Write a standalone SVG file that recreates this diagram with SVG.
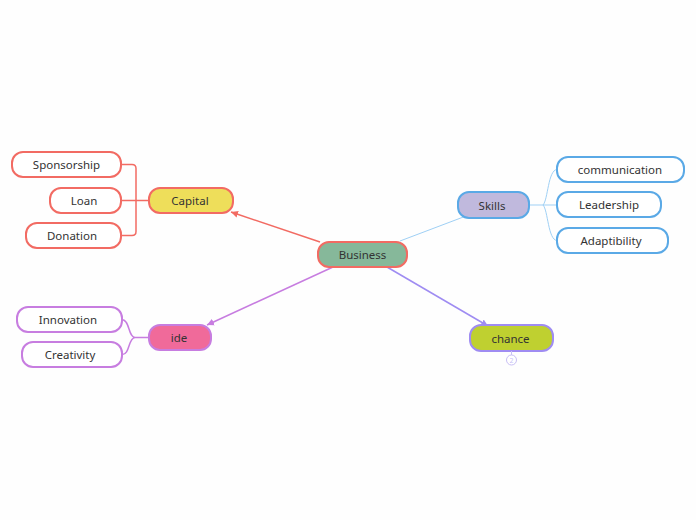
<svg xmlns="http://www.w3.org/2000/svg" width="696" height="520" viewBox="0 0 696 520">
<defs>
<marker id="ar" markerWidth="8" markerHeight="8" refX="7" refY="4" orient="auto" markerUnits="userSpaceOnUse"><path d="M0,0.5 L7,4 L0,7.5 Z" fill="context-stroke"/></marker>
<marker id="arR" markerWidth="8" markerHeight="8" refX="7" refY="4" orient="auto" markerUnits="userSpaceOnUse"><path d="M0,0.5 L7,4 L0,7.5 Z" fill="#f26b63"/></marker>
<marker id="arP" markerWidth="8" markerHeight="8" refX="7" refY="4" orient="auto" markerUnits="userSpaceOnUse"><path d="M0,0.5 L7,4 L0,7.5 Z" fill="#c77de0"/></marker>
<marker id="arL" markerWidth="8" markerHeight="8" refX="7" refY="4" orient="auto" markerUnits="userSpaceOnUse"><path d="M0,0.5 L7,4 L0,7.5 Z" fill="#9f8cf2"/></marker>
</defs>
<style>
text{font-family:"Noto Sans","DejaVu Sans",sans-serif;font-size:11.5px;fill:#333;text-anchor:middle;dominant-baseline:central}
.n rect{stroke-width:2}
.c{fill:none}
</style>
<rect width="696" height="520" fill="#fefefe"/>
<g id="connectors">
<line x1="320" y1="242" x2="231" y2="212" stroke="#f26b63" stroke-width="1.5" marker-end="url(#arR)"/>
<line x1="400" y1="241" x2="466" y2="216" stroke="#9fd0f5" stroke-width="1"/>
<line x1="333" y1="267" x2="207" y2="325" stroke="#c77de0" stroke-width="1.5" marker-end="url(#arP)"/>
<line x1="387" y1="267" x2="488" y2="326" stroke="#9f8cf2" stroke-width="1.5" marker-end="url(#arL)"/>
<path class="c" stroke="#f26b63" stroke-width="1.5" d="M149,200.5 H136 M121,164.5 H132 Q136,164.5 136,168.5 V231.5 Q136,235.5 132,235.5 H121 M121,200.5 H136"/>
<path class="c" stroke="#9fd0f5" stroke-width="1" d="M529,205 H543 M543,205 C548,200 548,170 557,169.5 M543,205 H557 M543,205 C548,210 548,240 557,240.5"/>
<path class="c" stroke="#c77de0" stroke-width="1.5" d="M149,337.5 H135 M135,337.5 C128,337 130,320 122,319.5 M135,337.5 C128,338 130,355 122,354.5"/>
</g>
<g id="business" class="n"><rect x="318" y="242" width="89" height="25" rx="11" fill="#86b89a" stroke="#f26b63"/><text x="362.5" y="254.5">Business</text></g>
<g id="capital" class="n"><rect x="149" y="188" width="84" height="25" rx="11" fill="#eede5a" stroke="#f26b63"/><text x="190" y="200.5">Capital</text></g>
<g id="sponsorship" class="n"><rect x="12" y="152" width="109" height="25" rx="11" fill="#fff" stroke="#f26b63"/><text x="66.5" y="164.5">Sponsorship</text></g>
<g id="loan" class="n"><rect x="50" y="188" width="71" height="25" rx="11" fill="#fff" stroke="#f26b63"/><text x="84" y="200.5">Loan</text></g>
<g id="donation" class="n"><rect x="26" y="223" width="95" height="25" rx="11" fill="#fff" stroke="#f26b63"/><text x="72" y="235.5">Donation</text></g>
<g id="skills" class="n"><rect x="458" y="192" width="71" height="26" rx="11" fill="#c0b9dd" stroke="#5aa9e6"/><text x="492" y="205">Skills</text></g>
<g id="communication" class="n"><rect x="557" y="157" width="127" height="25" rx="11" fill="#fff" stroke="#5aa9e6"/><text x="620" y="169.5">communication</text></g>
<g id="leadership" class="n"><rect x="557" y="192" width="104" height="25" rx="11" fill="#fff" stroke="#5aa9e6"/><text x="609" y="204.5">Leadership</text></g>
<g id="adaptibility" class="n"><rect x="557" y="228" width="111" height="25" rx="11" fill="#fff" stroke="#5aa9e6"/><text x="611" y="240.5">Adaptibility</text></g>
<g id="ide" class="n"><rect x="149" y="325" width="62" height="25" rx="11" fill="#f06a9a" stroke="#c77de0"/><text x="179" y="337.5">ide</text></g>
<g id="innovation" class="n"><rect x="17" y="307" width="105" height="25" rx="11" fill="#fff" stroke="#c77de0"/><text x="68" y="319.5">Innovation</text></g>
<g id="creativity" class="n"><rect x="22" y="342" width="100" height="25" rx="11" fill="#fff" stroke="#c77de0"/><text x="70" y="354.5">Creativity</text></g>
<g id="chance" class="n"><rect x="470" y="325" width="83" height="26" rx="11" fill="#bfd030" stroke="#9f8cf2"/><text x="510.5" y="338">chance</text>
<line x1="511.5" y1="351" x2="511.5" y2="355" stroke="#c8bff5" stroke-width="1"/>
<circle cx="511.5" cy="360" r="5" fill="#fff" stroke="#c8bff5" stroke-width="1"/><text x="511.5" y="360" style="font-size:7px;fill:#c8bff5">2</text></g>
</svg>
